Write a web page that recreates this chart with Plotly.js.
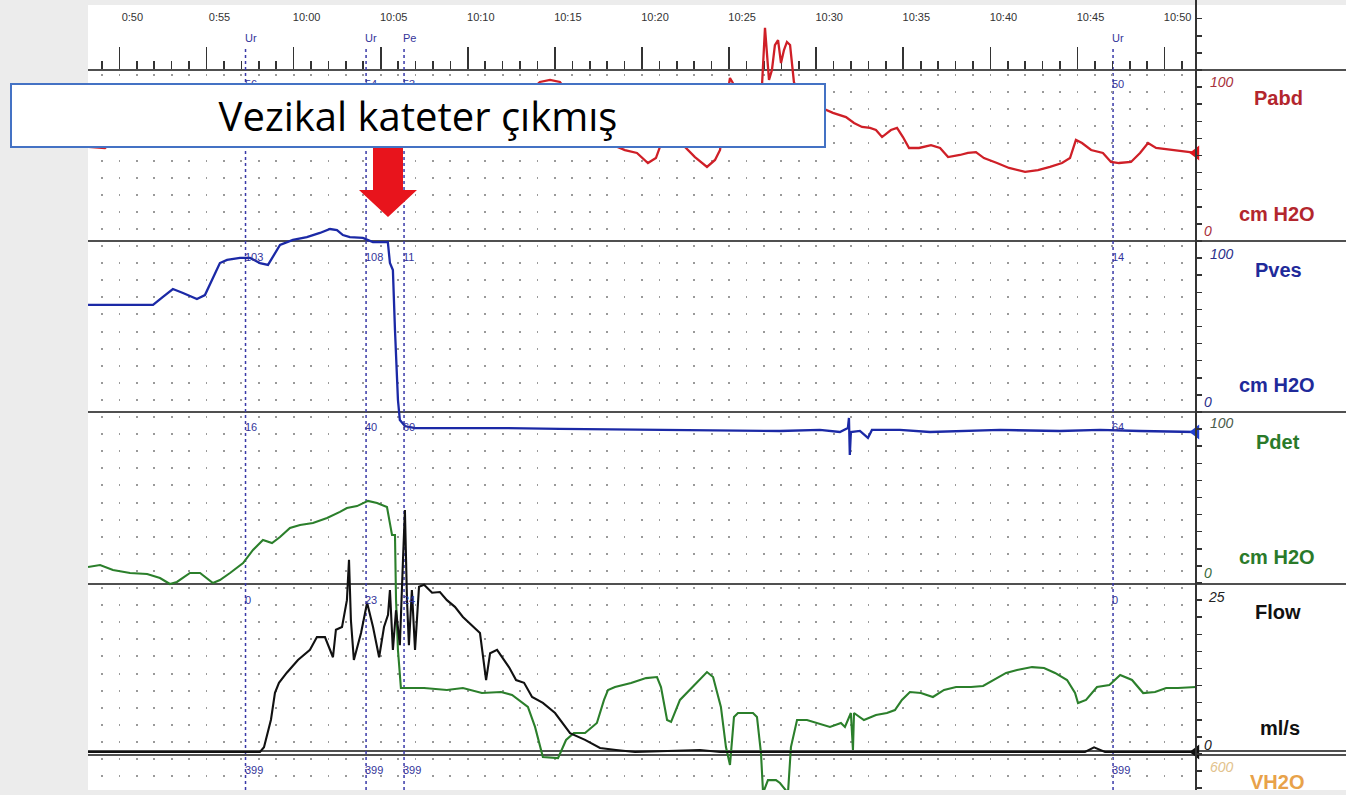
<!DOCTYPE html>
<html><head><meta charset="utf-8">
<script src="https://cdn.plot.ly/plotly-3.0.1.min.js"></script>
<style>html,body{margin:0;padding:0;background:#ececec;}#chart{width:1346px;height:795px;}</style>
</head><body><div id="chart"></div>
<script>
// ---- time axis (minutes after 0:50) ----
const timeTickValues = [0,5,10,15,20,25,30,35,40,45,50,55,60];
const timeTickLabels = ["0:50","0:55","10:00","10:05","10:10","10:15","10:20","10:25","10:30","10:35","10:40","10:45","10:50"];

// ---- Pabd (cm H2O) ----
const pabdTime = [-1.80,-0.83,-0.25,2.33,5.77,8.07,10.36,12.66,14.96,16.68,17.54,18.69,20.01,20.70,23.00,24.14,24.72,25.29,26.44,27.59,28.33,29.02,29.71,30.34,30.80,31.03,31.61,32.24,33.04,33.73,34.19,34.48,34.76,35.05,35.62,36.49,36.89,37.06,37.29,37.46,37.63,37.81,37.98,38.15,38.32,38.50,38.72,39.07,39.93,40.62,40.96,41.71,42.17,42.63,43.09,43.43,43.78,44.29,44.64,44.98,45.33,45.90,46.59,47.11,47.57,48.25,48.71,49.17,49.63,50.38,51.07,51.99,52.73,53.42,54.11,54.57,54.91,55.26,55.78,56.46,56.92,57.38,58.07,58.59,59.05,59.51,60.42,61.40,61.80];
const pabdValue = [55.0,54.4,59.1,66.1,69.6,71.9,75.4,76.6,77.8,75.4,55.6,55.0,55.6,70.8,82.5,93.0,94.2,93.0,76.6,62.0,56.1,53.2,51.5,45.6,48.5,55.0,56.1,57.3,49.1,43.3,47.4,53.2,76.6,95.3,85.4,82.5,91.2,124.6,94.2,100.0,114.6,117.5,104.1,111.7,116.4,114.6,93.0,82.5,79.5,76.6,74.9,72.5,69.0,66.7,66.1,64.9,60.8,64.9,66.1,60.8,54.4,54.4,56.1,54.4,49.1,50.3,51.5,52.0,48.5,45.6,42.7,40.4,41.5,43.3,45.6,48.5,59.1,57.3,53.2,51.5,46.2,45.6,46.2,51.5,57.3,54.4,53.2,52.0,51.5];

// ---- Pves (cm H2O) ----
const pvesTime = [-1.80,1.93,2.50,3.07,3.65,4.45,4.91,5.37,5.77,6.18,6.92,7.50,8.07,8.53,8.81,9.22,9.96,10.76,11.51,12.09,12.49,12.83,13.23,13.98,14.55,15.41,15.53,15.70,15.82,15.99,16.10,16.39,16.97,21.85,25.29,33.33,37.92,40.21,41.36,41.82,41.88,41.93,41.99,42.51,42.97,43.20,44.80,46.53,48.25,50.55,53.99,56.29,58.59,61.80];
const pvesValue = [62.6,62.6,67.3,71.9,69.6,66.1,68.4,78.9,87.1,88.9,90.1,90.1,87.1,86.0,90.6,97.7,100.6,102.3,104.7,107.0,106.4,103.5,102.3,101.8,99.4,99.4,87.1,83.0,48.0,7.0,-4.7,-8.2,-9.4,-9.4,-9.9,-10.5,-11.1,-10.5,-11.7,-9.4,-3.5,-25.1,-11.7,-11.1,-15.2,-10.5,-10.5,-11.7,-11.1,-10.5,-11.1,-10.5,-11.1,-11.7];

// ---- Pdet (cm H2O) ----
const pdetTime = [-1.80,-1.11,-0.37,0.61,1.59,2.33,2.90,3.30,4.05,4.63,5.37,5.77,6.35,7.10,7.67,8.24,8.76,9.22,9.79,10.37,11.11,11.92,12.66,13.06,13.64,14.27,14.79,15.36,15.65,15.82,15.88,15.99,16.16,17.49,18.80,19.72,20.81,21.91,22.54,23.45,23.86,24.31,25.18,25.64,26.09,26.73,27.41,27.82,28.05,28.45,29.37,30.23,30.86,31.09,31.44,31.67,32.18,33.10,33.73,34.08,34.53,34.82,35.05,35.28,35.51,36.37,36.60,36.83,36.95,37.23,37.69,37.92,38.38,38.55,38.90,39.47,40.10,40.79,41.42,41.65,41.99,42.11,42.17,42.74,43.43,44.06,44.52,44.92,45.38,46.01,46.70,47.34,48.03,48.89,49.58,50.21,50.90,51.53,52.39,53.08,53.71,54.40,54.86,55.03,55.49,56.12,56.83,57.45,58.13,58.77,59.45,60.09,60.77,61.80];
const pdetValue = [9.9,11.0,8.1,6.4,5.8,3.5,0.0,1.2,6.4,6.4,0.6,2.3,6.4,12.2,19.8,25.6,23.8,27.3,32.6,34.3,35.5,38.4,41.9,44.2,45.3,48.3,47.1,44.8,28.5,28.5,-9.3,-38.4,-60.5,-60.5,-61.6,-60.5,-63.4,-62.8,-64.5,-71.5,-83.1,-100.6,-101.2,-90.7,-86.6,-86.6,-80.8,-67.4,-61.6,-59.9,-57.6,-54.7,-54.1,-59.9,-79.1,-80.2,-67.4,-57.6,-51.2,-54.1,-71.5,-94.8,-105.2,-77.3,-75.0,-75.0,-77.3,-98.3,-121.5,-114.0,-114.0,-115.7,-121.5,-94.8,-79.1,-79.1,-80.8,-83.1,-80.8,-83.1,-75.0,-96.5,-75.0,-79.1,-76.2,-75.0,-73.3,-67.4,-62.8,-63.4,-65.7,-61.6,-59.9,-59.9,-59.3,-55.8,-51.7,-50.0,-48.3,-48.8,-51.7,-55.8,-63.4,-69.2,-67.4,-59.9,-58.7,-52.9,-55.8,-63.4,-62.8,-60.5,-60.5,-59.9];

// ---- Flow (ml/s) ----
const flowTime = [-1.80,8.07,8.30,8.70,8.93,9.16,9.61,10.25,10.94,11.34,11.80,12.26,12.43,12.78,13.06,13.18,13.29,13.46,13.87,14.22,14.56,14.91,15.19,15.42,15.53,15.70,15.88,16.10,16.28,16.39,16.51,16.62,16.79,16.97,17.20,17.49,17.95,18.40,18.80,19.26,19.72,20.35,20.70,21.05,21.28,21.68,22.37,22.77,23.23,23.69,24.31,25.01,25.87,26.73,27.59,28.51,29.60,33.33,34.48,55.43,55.95,56.58,61.80];
const flowValue = [0,0,0.7,4.8,8.8,10.3,11.8,13.7,15.2,17.1,17.1,14.1,18.2,18.6,22.6,28.6,19.6,13.7,17.7,22.2,18.6,14.1,18.6,20.4,24.1,15.2,21.1,15.9,28.6,36.0,22.6,15.9,24.1,15.2,24.6,24.9,23.7,23.8,22.6,21.6,20.1,18.6,17.7,10.7,14.7,15.2,12.6,10.7,10.3,8.2,7.3,5.8,2.8,1.8,0.6,0.3,0,0.3,0,0,0.7,0,0];

// ---- events ----
const eventTimes = [7.24,14.16,16.34,57.04];
const eventLabels = ["Ur","Ur","Pe","Ur"];
const eventPabd = ["56","54","53","50"];
const eventPves = ["103","108","11","14"];
const eventPdet = ["16","40","60","64"];
const eventFlow = ["0","23","24","0"];
const eventVH2O = ["399","399","399","399"];

const noteText = "Vezikal kateter çıkmış";

// ---------- layout geometry (pixels) ----------
const L=88, R=1196, T=5, B=790, FULLR=1346;
const PW=R-L, PH=B-T;
const px = x => (x-L)/PW;
const py = y => (B-y)/PH;
const rangeFor = (p0,pF,F) => { const s=(p0-pF)/F; return [(p0-B)/s,(p0-T)/s]; };
const timeRange = [(L-119.4)/17.42,(R-119.4)/17.42];
const FONT = "Liberation Sans, Arial, sans-serif";

const C = {pabd:'#cf1f27', pves:'#1b29a6', pdet:'#2b7f2b', flow:'#111111'};

const last = a => a[a.length-1];
const traces = [
  {x:[],y:[],xaxis:'x',yaxis:'y',type:'scatter',showlegend:false,hoverinfo:'skip'},
  {x:pabdTime,y:pabdValue,xaxis:'x2',yaxis:'y2',type:'scatter',mode:'lines',line:{color:C.pabd,width:2.3},showlegend:false},
  {x:pvesTime,y:pvesValue,xaxis:'x2',yaxis:'y3',type:'scatter',mode:'lines',line:{color:C.pves,width:2.3},showlegend:false},
  {x:pdetTime,y:pdetValue,xaxis:'x2',yaxis:'y4',type:'scatter',mode:'lines',line:{color:C.pdet,width:2.1},showlegend:false},
  {x:flowTime,y:flowValue,xaxis:'x2',yaxis:'y5',type:'scatter',mode:'lines',line:{color:C.flow,width:2.1},showlegend:false},
  {x:[last(pabdTime)],y:[last(pabdValue)],xaxis:'x2',yaxis:'y2',type:'scatter',mode:'markers',cliponaxis:false,marker:{symbol:'triangle-left',size:13,color:'#e0141c'},showlegend:false},
  {x:[last(pvesTime)],y:[last(pvesValue)],xaxis:'x2',yaxis:'y3',type:'scatter',mode:'markers',cliponaxis:false,marker:{symbol:'triangle-left',size:13,color:'#1f3fd0'},showlegend:false},
  {x:[last(flowTime)],y:[last(flowValue)],xaxis:'x2',yaxis:'y5',type:'scatter',mode:'markers',cliponaxis:false,marker:{symbol:'triangle-left',size:13,color:'#111'},showlegend:false},
  {x:[],y:[],xaxis:'x2',yaxis:'y6',type:'scatter',showlegend:false,hoverinfo:'skip'}
];

const GRIDDASH = '0px,4px,2px,11.1px';
const shapes = [
  {type:'rect',xref:'paper',yref:'paper',x0:0,x1:px(FULLR),y0:0,y1:1,fillcolor:'#ffffff',line:{width:0},layer:'below'}
];
[70,241,412,584,751,755].forEach(y=>shapes.push({type:'line',xref:'paper',yref:'paper',x0:0,x1:px(FULLR),y0:py(y),y1:py(y),line:{color:'#505050',width:2},layer:'below'}));
shapes.push({type:'line',xref:'paper',yref:'paper',x0:1,x1:1,y0:0,y1:py(0),line:{color:'#333',width:2},layer:'above'});
eventTimes.forEach(t=>shapes.push({type:'line',xref:'x2',yref:'paper',x0:t,x1:t,y0:0,y1:py(46),line:{color:'#3a3aa8',width:1.5,dash:'3px,3px'},layer:'below'}));
const arrowPts = [[373,148],[403,148],[403,190],[417,190],[388,217],[359,190],[373,190]];
shapes.push({type:'path',xref:'paper',yref:'paper',path:'M'+arrowPts.map(p=>px(p[0]).toFixed(5)+','+py(p[1]).toFixed(5)).join(' L')+' Z',fillcolor:'#e8141c',line:{width:0},layer:'above'});

const annotations = [];
function lab(text,x,y,color,size,opts){
  opts=opts||{};
  annotations.push({text:text,xref:'paper',yref:'paper',x:px(x),y:py(y),xanchor:opts.xa||'center',yanchor:'middle',showarrow:false,
    font:{family:FONT,size:size,color:color,weight:opts.bold?700:400,style:opts.italic?'italic':'normal'}});
}
// event markers & values
const evColor = '#34349a';
function evRow(arr,y){ arr.forEach((s,i)=>annotations.push({text:s,xref:'x2',yref:'paper',x:eventTimes[i],y:py(y),xanchor:'left',yanchor:'middle',xshift:-3,showarrow:false,font:{family:FONT,size:11,color:evColor}})); }
evRow(eventLabels,38);
evRow(eventPabd,84); evRow(eventPves,257); evRow(eventPdet,427); evRow(eventFlow,600); evRow(eventVH2O,770);

// right channel labels
lab('100',1222,82,'#a8303a',14,{italic:true}); lab('Pabd',1278,98,'#b3262d',20,{bold:true});
lab('cm H2O',1277,214,'#b3262d',20,{bold:true}); lab('0',1208,231,'#a8303a',14,{italic:true});
lab('100',1222,254,'#2a2f8a',14,{italic:true}); lab('Pves',1278,270,'#1f2a9a',20,{bold:true});
lab('cm H2O',1277,385,'#1f2a9a',20,{bold:true}); lab('0',1208,402,'#2a2f8a',14,{italic:true});
lab('100',1222,423,'#4a5a4a',14,{italic:true}); lab('Pdet',1278,442,'#2a7a2a',20,{bold:true});
lab('cm H2O',1277,557,'#2a7a2a',20,{bold:true}); lab('0',1208,573,'#3a6a3a',14,{italic:true});
lab('25',1216,597,'#222',14,{italic:true}); lab('Flow',1278,612,'#111',20,{bold:true});
lab('ml/s',1280,728,'#111',20,{bold:true}); lab('0',1208,745,'#222',14,{italic:true});
lab('600',1222,767,'#e2c28c',14,{italic:true}); lab('VH2O',1277,782,'#e8a24a',20,{bold:true});

// overlay note box (on top of everything)
annotations.push({text:noteText,xref:'paper',yref:'paper',x:px(418),y:py(115.5),xanchor:'center',yanchor:'middle',showarrow:false,
  width:812,height:61,bgcolor:'#ffffff',bordercolor:'#4472c4',borderwidth:2,borderpad:0,
  font:{family:'Open Sans, Lato, sans-serif',size:40,color:'#000'}});

const layout = {
  width:1346,height:795,margin:{l:L,r:FULLR-R,t:T,b:795-B,pad:0},
  paper_bgcolor:'#ececec',plot_bgcolor:'rgba(0,0,0,0)',showlegend:false,
  xaxis:{domain:[0,1],range:timeRange,anchor:'y',side:'top',tickmode:'array',tickvals:timeTickValues,ticktext:timeTickLabels,
    ticks:'outside',ticklen:22,tickwidth:1.6,tickcolor:'#333',tickfont:{family:FONT,size:11,color:'#333'},
    ticklabelshift:13,ticklabelstandoff:22,showline:false,zeroline:false,fixedrange:true,
    showgrid:true,gridcolor:'#9a9a9a',gridwidth:1.8,griddash:GRIDDASH,
    minor:{tickmode:'linear',tick0:0,dtick:1,ticks:'outside',ticklen:8,tickwidth:1.6,tickcolor:'#333',showgrid:true,gridcolor:'#9a9a9a',gridwidth:1.8,griddash:GRIDDASH}},
  yaxis:{domain:[0,py(70)],range:[0,1],anchor:'x',visible:false,fixedrange:true},
  xaxis2:{domain:[0,1],range:timeRange,anchor:'y2',visible:false,fixedrange:true},
  yaxis2:{domain:[0,1],anchor:'x2',range:rangeFor(241,70,100),visible:false,fixedrange:true},
  yaxis3:{overlaying:'y2',anchor:'x2',range:rangeFor(412,241,100),visible:false,fixedrange:true},
  yaxis4:{overlaying:'y2',anchor:'x2',range:rangeFor(584,412,100),visible:false,fixedrange:true},
  yaxis5:{overlaying:'y2',anchor:'x2',range:rangeFor(752,584,25),visible:false,fixedrange:true},
  yaxis6:{overlaying:'y2',anchor:'x2',side:'right',range:[B,T],tickmode:'linear',tick0:70,dtick:17.1,ticks:'outside',ticklen:5,tickwidth:1.5,tickcolor:'#333',
    showticklabels:false,showgrid:false,zeroline:false,showline:false,fixedrange:true},
  shapes:shapes,annotations:annotations
};
Plotly.newPlot('chart',traces,layout,{displayModeBar:false,staticPlot:true});
</script></body></html>
